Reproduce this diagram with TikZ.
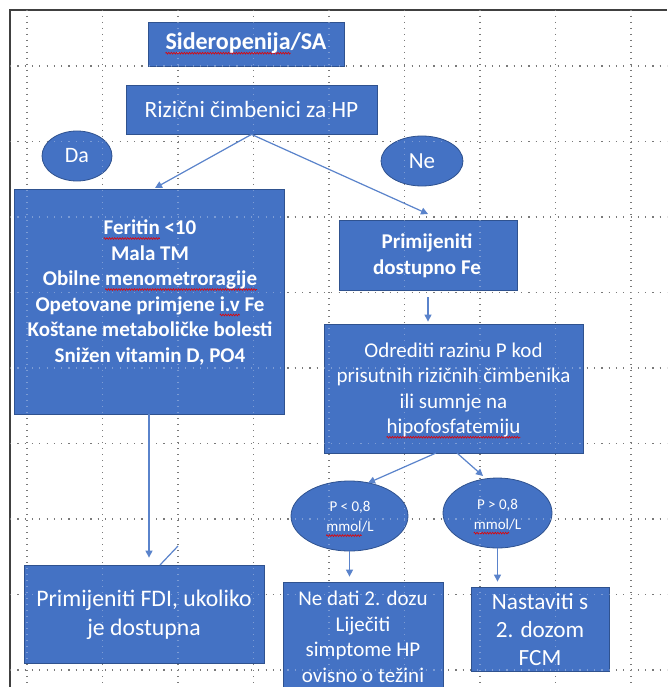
\documentclass[tikz,border=0pt]{standalone}
\usepackage{fontspec}
\setmainfont{Carlito}
\usetikzlibrary{arrows.meta,shapes.geometric,decorations.pathmorphing}
\definecolor{boxblue}{HTML}{4472C4}
\definecolor{boxedge}{HTML}{2F528F}
\definecolor{arrblue}{HTML}{5A83CB}
\definecolor{framec}{HTML}{404040}
\newlength\spwlen
\newcommand\spw[1]{\setbox0\hbox{#1}\spwlen=\wd0\relax\rlap{\tikz[baseline=0pt,overlay]\draw[red!90!black,line width=0.6pt,decorate,decoration={zigzag,amplitude=0.9pt,segment length=2.6pt}] (0pt,-3.8pt) -- (\spwlen,-3.8pt);}\box0\relax}
\tikzset{
  box/.style={rectangle, fill=boxblue, draw=boxedge, line width=0.8pt, inner sep=0pt},
  oval/.style={ellipse, fill=boxblue, draw=boxedge, line width=0.8pt, inner sep=0pt},
  txt/.style={text=white, align=center, inner sep=0pt},
  arr/.style={draw=arrblue, line width=1.2pt, -{Triangle[length=7pt,width=7pt]}},
  plainline/.style={draw=arrblue, line width=1.2pt},
  gridh/.style={draw=black!75, line width=1.2pt, dash pattern=on 1.2pt off 6.1pt},
  gridv/.style={draw=black!75, line width=1.2pt, dash pattern=on 1.2pt off 4.8pt},
}
\begin{document}
\begin{tikzpicture}[x=1pt,y=-1pt]
\useasboundingbox (0,0) rectangle (667,687);
\clip (0,0) rectangle (667,687);
\fill[white] (0,0) rectangle (667,687);
% grid
\foreach \i in {0,...,8} {
  \draw[gridv] (27+75.5*\i,10) -- (27+75.5*\i,687);
  \draw[gridh] (10,66+75.5*\i) -- (667,66+75.5*\i);
}
% frame
\draw[framec, line width=1.6pt] (10,687) -- (10,10) -- (667,10);

% nodes
\node[box, minimum width=196, minimum height=44] (side) at (246,44) {};
\node[txt, font=\fontsize{24}{28}\selectfont\bfseries] (sidet) at (246,43) {\spw{Sideropenija}/SA};

\node[box, minimum width=251, minimum height=49] (riz) at (251.5,109.5) {};
\node[txt, font=\fontsize{23.4}{28}\selectfont] (rizt) at (251.5,109) {Rizični čimbenici za HP};

\node[oval, minimum width=70, minimum height=50] (da) at (77,156) {};
\node[txt, font=\fontsize{22}{26}\selectfont] (dat) at (77,156) {Da};

\node[oval, minimum width=82, minimum height=50] (ne) at (422,161) {};
\node[txt, font=\fontsize{23}{26}\selectfont] (net) at (422,161) {Ne};

\node[box, minimum width=270, minimum height=225] (big) at (149,301.5) {};
\node[txt, font=\fontsize{21}{25.5}\selectfont\bfseries] (bigt) at (150,292.5) {\spw{Feritin} <10\\Mala TM\\Obilne \spw{menometroragije}\\Opetovane primjene \spw{i.v} Fe\\Koštane metaboličke bolesti\\Snižen vitamin D, PO4};

\node[box, minimum width=178, minimum height=70] (fe) at (428,255) {};
\node[txt, font=\fontsize{21}{26.5}\selectfont\bfseries] (fet) at (427,256) {Primijeniti\\dostupno Fe};

\node[box, minimum width=259, minimum height=129] (odr) at (453.5,388.5) {};
\node[txt, font=\fontsize{21}{25.3}\selectfont] (odrt) at (453.5,390) {Odrediti razinu P kod\\prisutnih rizičnih čimbenika\\ili sumnje na\\\spw{hipofosfatemiju}};

\node[oval, minimum width=117, minimum height=70] (plt) at (349.5,516) {};
\node[txt, font=\fontsize{15}{20}\selectfont] (pltt) at (350,517) {P < 0,8\\\spw{mmol}/L};

\node[oval, minimum width=109, minimum height=70] (pgt) at (497.5,513) {};
\node[txt, font=\fontsize{15}{20}\selectfont] (pgtt) at (497.5,514.5) {P > 0,8\\\spw{mmol}/L};

\node[box, minimum width=240, minimum height=98] (fdi) at (144,614) {};
\node[txt, font=\fontsize{23.7}{29.5}\selectfont] (fdit) at (144,615) {Primijeniti FDI, ukoliko\\je dostupna};

\node[box, minimum width=160, minimum height=120] (ned) at (363,642) {};
\node[txt, font=\fontsize{21}{25.5}\selectfont] (nedt) at (363,637) {Ne dati 2. dozu\\Liječiti\\simptome HP\\ovisno o težini};

\node[box, minimum width=138, minimum height=84] (nas) at (540,629) {};
\node[txt, font=\fontsize{23.2}{28}\selectfont] (nast) at (540,630) {Nastaviti s\\2. dozom\\FCM};

% light grid showing through the boxes
\foreach \i in {0,...,8} {
  \draw[gridv, draw=white, opacity=0.3] (27+75.5*\i,10) -- (27+75.5*\i,687);
  \draw[gridh, draw=white, opacity=0.3] (10,66+75.5*\i) -- (667,66+75.5*\i);
}

% connectors
\coordinate (a1) at (155,188);
\coordinate (a2) at (428,214);
\draw[arr] (riz.south) -- (a1);
\draw[arr] (riz.south) -- (a2);
\draw[arr] ([yshift=-7pt]fe.south) -- ([yshift=2pt]fe.south |- odr.north);
\draw[arr] (big.south) -- ([yshift=7pt]big.south |- fdi.north);
\coordinate (d1) at (178,546);
\coordinate (d2) at (160,565);
\draw[plainline] (d1) -- (d2);
\coordinate (o1) at (436,453);
\coordinate (o2) at (368,483);
\coordinate (o3) at (457,453);
\coordinate (o4) at (483,476);
\draw[arr] (o1) -- (o2);
\draw[arr] (o3) -- (o4);
\draw[arr] (plt.south) -- ([yshift=5pt]plt.south |- ned.north);
\draw[arr] (pgt.south) -- ([yshift=5pt]pgt.south |- nas.north);
\end{tikzpicture}
\end{document}
